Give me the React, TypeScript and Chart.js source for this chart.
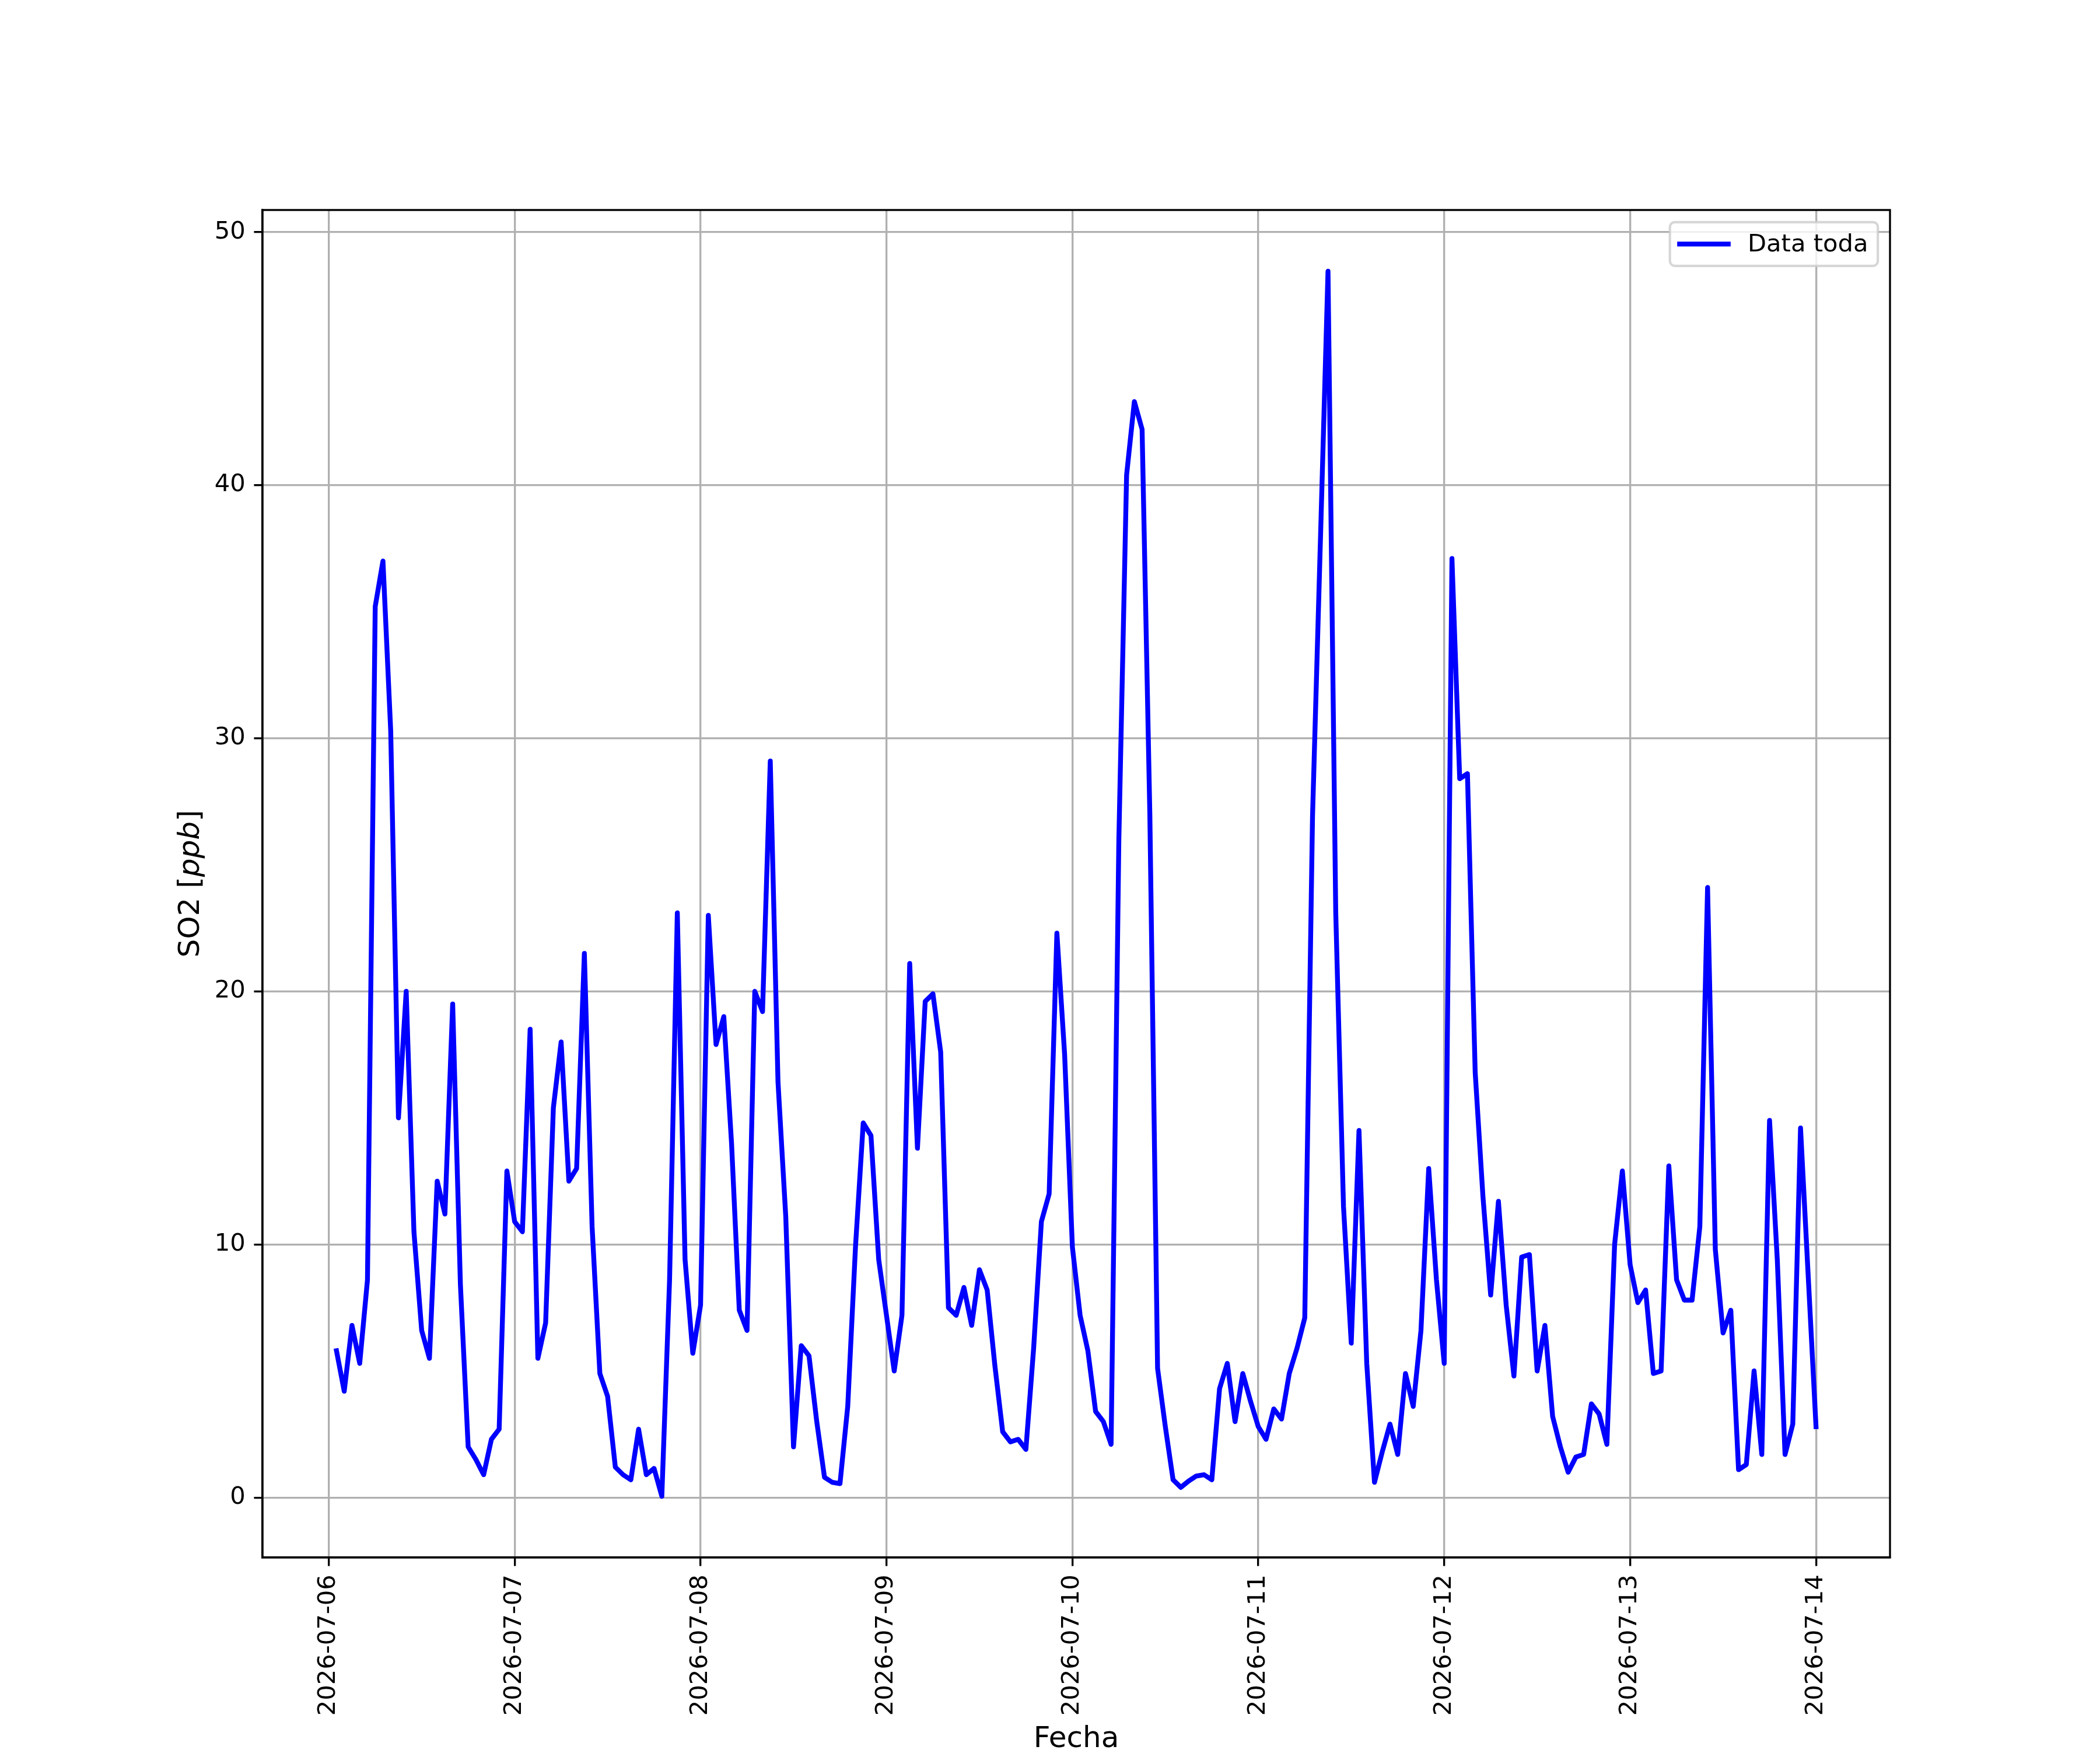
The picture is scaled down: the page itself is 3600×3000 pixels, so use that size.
import React, { useEffect, useRef } from "react";
import { Chart, registerables } from "chart.js";

Chart.register(...registerables);

// ---------- data ----------
const DATE_TICKS = [
  "2026-07-06", "2026-07-07", "2026-07-08", "2026-07-09", "2026-07-10",
  "2026-07-11", "2026-07-12", "2026-07-13", "2026-07-14",
];
const Y_TICKS = [0, 10, 20, 30, 40, 50];
const SERIES_LABEL = "Data toda";
const X_TITLE = "Fecha";
const Y_TITLE_PARTS = ["SO2 [", "ppb", "]"];

// hourly values, 01:00 .. 24:00 of each day
const DAY_0706 = [5.8, 4.2, 6.8, 5.3, 8.6, 35.2, 37.0, 30.3, 15.0, 20.0, 10.5, 6.6, 5.5, 12.5, 11.2, 19.5, 8.4, 2.0, 1.5, 0.9, 2.3, 2.7, 12.9, 10.9];
const DAY_0707 = [10.5, 18.5, 5.5, 6.9, 15.4, 18.0, 12.5, 13.0, 21.5, 10.7, 4.9, 4.0, 1.2, 0.9, 0.7, 2.7, 0.9, 1.15, 0.05, 8.6, 23.1, 9.4, 5.7, 7.6];
const DAY_0708 = [23.0, 17.9, 19.0, 14.0, 7.4, 6.6, 20.0, 19.2, 29.1, 16.4, 11.1, 2.0, 6.0, 5.6, 3.0, 0.8, 0.6, 0.55, 3.6, 9.9, 14.8, 14.3, 9.4, 7.2];
const DAY_0709 = [5.0, 7.2, 21.1, 13.8, 19.6, 19.9, 17.6, 7.5, 7.2, 8.3, 6.8, 9.0, 8.2, 5.2, 2.6, 2.2, 2.3, 1.9, 5.9, 10.9, 12.0, 22.3, 17.5, 9.9];
const DAY_0710 = [7.2, 5.8, 3.4, 3.0, 2.1, 26.0, 40.4, 43.3, 42.2, 27.0, 5.1, 2.8, 0.7, 0.4, 0.65, 0.85, 0.9, 0.7, 4.3, 5.3, 3.0, 4.9, 3.8, 2.8];
const DAY_0711 = [2.3, 3.5, 3.1, 4.9, 5.9, 7.1, 26.9, 37.6, 48.45, 23.1, 11.5, 6.1, 14.5, 5.3, 0.6, 1.8, 2.9, 1.7, 4.9, 3.6, 6.6, 13.0, 8.6, 5.3];
const DAY_0712 = [37.1, 28.4, 28.6, 16.8, 11.9, 8.0, 11.7, 7.6, 4.8, 9.5, 9.6, 5.0, 6.8, 3.2, 2.0, 1.0, 1.6, 1.7, 3.7, 3.3, 2.1, 10.0, 12.9, 9.2];
const DAY_0713 = [7.7, 8.2, 4.9, 5.0, 13.1, 8.6, 7.8, 7.8, 10.7, 24.1, 9.8, 6.5, 7.4, 1.1, 1.3, 5.0, 1.7, 14.9, 9.4, 1.7, 2.9, 14.6, 8.7, 2.8];

const DAYS = [DAY_0706, DAY_0707, DAY_0708, DAY_0709, DAY_0710, DAY_0711, DAY_0712, DAY_0713];

// ---------- styling (matplotlib defaults at 300 dpi) ----------
const PT = 300 / 72;
const W = 3600;
const H = 3000;
const FONT = "'DejaVu Sans', 'Liberation Sans', sans-serif";
const TICK_FS = 10 * PT;
const LABEL_FS = 12 * PT;
const SPINE_W = 0.8 * PT;
const TICK_LEN = 3.5 * PT;
const TICK_PAD = 3.5 * PT;
const LINE_W = 2 * PT;
const AREA = { left: 0.125 * W, right: 0.9 * W, top: 0.12 * H, bottom: 0.89 * H };

function buildPoints() {
  const pts: { x: number; y: number }[] = [];
  DAYS.forEach((day, d) => {
    day.forEach((v, h) => {
      pts.push({ x: d * 24 + h + 1, y: v });
    });
  });
  return pts;
}

const decorPlugin = {
  id: "decor",
  beforeDraw(chart: any) {
    const ctx = chart.ctx;
    ctx.save();
    ctx.fillStyle = "#ffffff";
    ctx.fillRect(0, 0, chart.width, chart.height);
    ctx.restore();
  },
  afterDraw(chart: any) {
    const ctx = chart.ctx;
    const a = chart.chartArea;
    ctx.save();
    // frame
    ctx.strokeStyle = "#000000";
    ctx.lineWidth = SPINE_W;
    ctx.lineJoin = "miter";
    ctx.strokeRect(a.left, a.top, a.right - a.left, a.bottom - a.top);

    // legend
    ctx.font = `${TICK_FS}px ${FONT}`;
    const textW = ctx.measureText(SERIES_LABEL).width;
    const pad = 0.4 * TICK_FS;
    const handleLen = 2.0 * TICK_FS;
    const handlePad = 0.8 * TICK_FS;
    const boxW = pad * 2 + handleLen + handlePad + textW;
    const boxH = 75;
    const bx = a.right - 0.5 * TICK_FS - boxW;
    const by = a.top + 0.5 * TICK_FS;
    const r = 0.2 * TICK_FS;
    ctx.beginPath();
    ctx.moveTo(bx + r, by);
    ctx.lineTo(bx + boxW - r, by);
    ctx.arcTo(bx + boxW, by, bx + boxW, by + r, r);
    ctx.lineTo(bx + boxW, by + boxH - r);
    ctx.arcTo(bx + boxW, by + boxH, bx + boxW - r, by + boxH, r);
    ctx.lineTo(bx + r, by + boxH);
    ctx.arcTo(bx, by + boxH, bx, by + boxH - r, r);
    ctx.lineTo(bx, by + r);
    ctx.arcTo(bx, by, bx + r, by, r);
    ctx.closePath();
    ctx.fillStyle = "rgba(255,255,255,0.8)";
    ctx.fill();
    ctx.strokeStyle = "rgba(204,204,204,0.8)";
    ctx.lineWidth = 1.0 * PT;
    ctx.stroke();

    const hy = by + 37.5;
    ctx.beginPath();
    ctx.moveTo(bx + pad, hy);
    ctx.lineTo(bx + pad + handleLen, hy);
    ctx.strokeStyle = "#0000ff";
    ctx.lineWidth = LINE_W;
    ctx.lineCap = "square";
    ctx.stroke();

    ctx.fillStyle = "#000000";
    ctx.textAlign = "left";
    ctx.textBaseline = "alphabetic";
    ctx.fillText(SERIES_LABEL, bx + pad + handleLen + handlePad, by + 50);

    // x axis title
    ctx.font = `${LABEL_FS}px ${FONT}`;
    ctx.textAlign = "center";
    ctx.fillText(X_TITLE, (a.left + a.right) / 2, 2995);

    // y axis title (with italic unit)
    ctx.save();
    ctx.translate(341, (a.top + a.bottom) / 2);
    ctx.rotate(-Math.PI / 2);
    const fonts = [
      `${LABEL_FS}px ${FONT}`,
      `italic ${LABEL_FS}px ${FONT}`,
      `${LABEL_FS}px ${FONT}`,
    ];
    const widths = Y_TITLE_PARTS.map((p, i) => {
      ctx.font = fonts[i];
      return ctx.measureText(p).width;
    });
    const total = widths.reduce((s, w) => s + w, 0);
    let cx = -total / 2;
    ctx.textAlign = "left";
    Y_TITLE_PARTS.forEach((p, i) => {
      ctx.font = fonts[i];
      ctx.fillText(p, cx, 0);
      cx += widths[i];
    });
    ctx.restore();

    ctx.restore();
  },
};

export default function App() {
  const ref = useRef<HTMLCanvasElement | null>(null);

  useEffect(() => {
    document.body.style.margin = "0";
    const canvas = ref.current;
    if (!canvas) return;
    const points = buildPoints();
    const ys = points.map((p) => p.y);
    const xs = points.map((p) => p.x);
    const yMinD = Math.min(...ys);
    const yMaxD = Math.max(...ys);
    const xMinD = Math.min(...xs);
    const xMaxD = Math.max(...xs);
    const yM = 0.05 * (yMaxD - yMinD);
    const xM = 0.05 * (xMaxD - xMinD);

    const gridCommon = {
      color: "#b0b0b0",
      lineWidth: 0.8 * PT,
      drawTicks: true,
      tickLength: TICK_LEN,
      tickColor: "#000000",
      tickWidth: SPINE_W,
    };

    const chart = new Chart(canvas, {
      type: "line",
      data: {
        datasets: [
          {
            label: SERIES_LABEL,
            data: points,
            borderColor: "#0000ff",
            backgroundColor: "#0000ff",
            borderWidth: LINE_W,
            pointRadius: 0,
            pointHoverRadius: 0,
            tension: 0,
            fill: false,
            borderJoinStyle: "round",
            borderCapStyle: "square",
          },
        ],
      },
      options: {
        animation: false,
        responsive: false,
        devicePixelRatio: 1,
        events: [],
        layout: {
          padding: { left: 0, top: AREA.top, right: W - AREA.right, bottom: 0 },
        },
        plugins: {
          legend: { display: false },
          tooltip: { enabled: false },
          title: { display: false },
        },
        scales: {
          x: {
            type: "linear",
            min: xMinD - xM,
            max: xMaxD + xM,
            afterBuildTicks: (scale: any) => {
              scale.ticks = DATE_TICKS.map((_, i) => ({ value: i * 24 }));
            },
            afterFit: (scale: any) => {
              scale.height = H - AREA.bottom;
            },
            grid: gridCommon,
            border: { display: true, color: "#000000", width: SPINE_W },
            ticks: {
              autoSkip: false,
              minRotation: 90,
              maxRotation: 90,
              padding: TICK_PAD,
              color: "#000000",
              font: { family: FONT, size: TICK_FS },
              callback: (v: any) => DATE_TICKS[Math.round(Number(v) / 24)] ?? "",
            },
          },
          y: {
            type: "linear",
            min: yMinD - yM,
            max: yMaxD + yM,
            afterBuildTicks: (scale: any) => {
              scale.ticks = Y_TICKS.map((v) => ({ value: v }));
            },
            afterFit: (scale: any) => {
              scale.width = AREA.left;
            },
            grid: gridCommon,
            border: { display: true, color: "#000000", width: SPINE_W },
            ticks: {
              padding: TICK_PAD,
              color: "#000000",
              font: { family: FONT, size: TICK_FS },
              callback: (v: any) => String(v),
            },
          },
        },
      },
      plugins: [decorPlugin],
    } as any);

    return () => {
      chart.destroy();
    };
  }, []);

  return (
    <div style={{ position: "absolute", left: 0, top: 0, width: W, height: H, background: "#fff" }}>
      <canvas ref={ref} width={W} height={H} style={{ width: W, height: H, display: "block" }} />
    </div>
  );
}
